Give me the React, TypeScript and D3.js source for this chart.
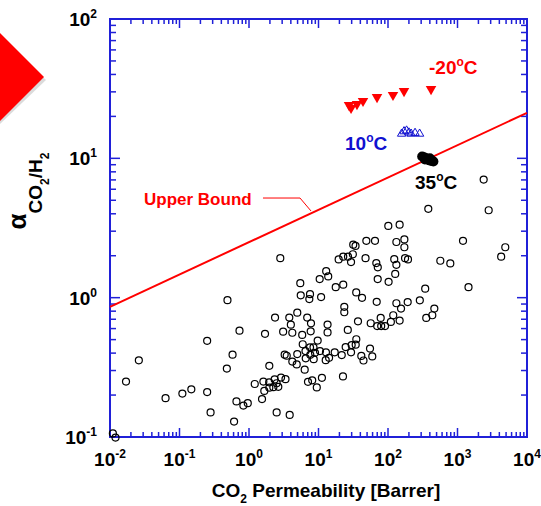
import React, { useEffect, useRef } from "react";
import * as d3 from "d3";

const xDecades = [-2, -1, 0, 1, 2, 3, 4];
const yDecades = [-1, 0, 1, 2];

// literature polymers: [CO2 permeability (Barrer), CO2/H2 selectivity]
const polymers: [number, number][] = [
  [0.011, 0.106], [0.012, 0.099], [0.017, 0.25], [0.026, 0.355], [0.063, 0.19],
  [0.11, 0.205], [0.148, 0.22], [0.25, 0.21], [0.28, 0.15], [0.25, 0.49],
  [0.49, 0.96], [0.73, 0.58], [0.58, 0.39], [0.48, 0.31], [0.66, 0.18],
  [0.83, 0.168], [0.96, 0.175], [0.61, 0.129], [1.21, 0.24], [1.54, 0.187],
  [1.61, 0.25], [1.66, 0.214], [1.95, 0.247], [1.96, 0.226], [2.24, 0.228],
  [2.34, 0.259], [2.5, 0.243], [2.64, 0.229], [2.89, 0.267], [3.35, 0.26],
  [1.96, 0.324], [1.7, 0.55], [2.37, 0.72], [2.82, 1.92], [2.5, 0.15],
  [3.85, 0.144], [3.1, 0.57], [3.8, 0.72], [4.0, 0.64], [4.2, 0.56],
  [4.95, 0.78], [3.26, 0.39], [3.49, 0.383], [4.95, 0.394], [4.2, 0.348],
  [4.86, 0.332], [5.47, 1.27], [5.55, 1.04], [5.83, 0.54], [6.88, 0.72],
  [7.8, 0.654], [7.72, 0.573], [5.93, 0.463], [7.55, 0.44], [8.47, 0.44],
  [6.5, 0.414], [7.62, 0.389], [8.91, 0.402], [9.73, 0.492], [6.55, 0.367],
  [8.53, 0.362], [6.33, 0.304], [7.06, 0.249], [8.12, 0.255], [9.45, 0.227],
  [11.2, 0.266], [10.5, 0.414], [7.55, 1.06], [7.38, 0.977], [10.9, 1.01],
  [10.4, 1.36], [12.9, 1.55], [13.8, 1.42], [13.5, 0.641], [13.5, 0.563],
  [12.8, 0.405], [12.7, 0.356], [14.2, 0.37], [17.7, 1.19], [17.1, 0.405],
  [19.5, 1.88], [22.7, 1.97], [26.6, 1.97], [31.2, 2.05], [29.4, 1.8],
  [31.6, 2.4], [34.1, 2.35], [48.8, 2.56], [65, 2.56], [47.5, 1.92],
  [67.9, 1.77], [71.3, 1.65], [22.7, 1.24], [34.9, 1.09], [42.3, 0.997],
  [71.1, 1.36], [68.8, 0.933], [23.5, 0.86], [23.5, 0.786], [21.6, 0.387],
  [24.6, 0.442], [26.4, 0.587], [29.4, 0.405], [30.0, 0.457], [34.3, 0.46],
  [35.0, 0.503], [37.0, 0.676], [41.3, 0.382], [44.4, 0.354], [55.1, 0.431],
  [59.4, 0.379], [56.4, 0.655], [22.5, 0.272], [69.9, 0.625], [79.8, 0.625],
  [90.6, 0.625], [78.5, 0.716], [101, 3.27], [147, 3.34], [132, 2.51],
  [172, 2.62], [172, 2.3], [123, 1.89], [132, 1.72], [176, 1.92],
  [194, 1.88], [102, 1.3], [127, 1.48], [132, 0.912], [154, 0.835],
  [192, 0.929], [287, 0.957], [343, 1.16], [464, 0.835], [434, 0.748],
  [355, 0.716], [119, 0.748], [147, 0.685], [110, 0.67], [380, 4.34],
  [566, 1.84], [788, 1.76], [1200, 2.56], [1440, 1.19], [2380, 7.04],
  [2810, 4.24], [4250, 1.97], [4870, 2.3],
];

const minus20C: [number, number][] = [
  [27.5, 24.1], [29.4, 23.0], [35.8, 24.5], [43.7, 25.8],
  [69.5, 27.5], [118, 28.5], [170, 30.4], [416, 31.4],
];

const plus10C: [number, number][] = [
  [157, 15.0], [170, 15.6], [185, 15.8], [200, 15.3], [215, 15.0], [245, 15.2], [285, 15.0],
];

const plus35C: [number, number][] = [
  [310, 10.3], [330, 10.2], [350, 10.0], [370, 9.8], [390, 9.7],
  [410, 9.6], [430, 9.6], [450, 9.5], [340, 9.8], [400, 10.0],
];

const upperBound: [number, number][] = [[0.01, 0.86], [10000, 21.2]];
const leader: [number, number][] = [[1.59, 5.19], [5.42, 5.19], [7.8, 4.19]];

function App() {
  const ref = useRef<SVGSVGElement>(null);

  useEffect(() => {
    const svg = d3.select(ref.current);
    svg.selectAll("*").remove();

    const font = "'Liberation Sans', Arial, sans-serif";
    const blue = "#2020d8";
    const left = 110, right = 527, top = 19, bottom = 437;

    const x = d3.scaleLog().domain([1e-2, 1e4]).range([left, right]);
    const y = d3.scaleLog().domain([1e-1, 1e2]).range([bottom, top]);

    // red arrow decoration at the left
    svg.append("polygon")
      .attr("points", "0,36 46,80 0,124")
      .attr("fill", "#999")
      .attr("opacity", 0.35);
    svg.append("polygon")
      .attr("points", "0,33 44,77 0,121")
      .attr("fill", "#ff0000");

    const minorOf = (decs: number[]) =>
      decs.slice(0, -1).flatMap((d) => d3.range(2, 10).map((m) => m * Math.pow(10, d)));
    const xMajor = xDecades.map((d) => Math.pow(10, d));
    const yMajor = yDecades.map((d) => Math.pow(10, d));
    const xMinor = minorOf(xDecades);
    const yMinor = minorOf(yDecades);

    const ticks = svg.append("g").attr("stroke", blue).attr("stroke-width", 1.5);
    const hTick = (vals: number[], len: number) => {
      vals.forEach((v) => {
        ticks.append("line").attr("x1", x(v)).attr("x2", x(v)).attr("y1", bottom).attr("y2", bottom - len);
        ticks.append("line").attr("x1", x(v)).attr("x2", x(v)).attr("y1", top).attr("y2", top + len);
      });
    };
    const vTick = (vals: number[], len: number) => {
      vals.forEach((v) => {
        ticks.append("line").attr("y1", y(v)).attr("y2", y(v)).attr("x1", left).attr("x2", left + len);
        ticks.append("line").attr("y1", y(v)).attr("y2", y(v)).attr("x1", right).attr("x2", right - len);
      });
    };
    hTick(xMajor, 9);
    hTick(xMinor, 5);
    vTick(yMajor, 10);
    vTick(yMinor, 6);

    svg.append("rect")
      .attr("x", left).attr("y", top)
      .attr("width", right - left).attr("height", bottom - top)
      .attr("fill", "none").attr("stroke", blue).attr("stroke-width", 2);

    // tick labels
    const power = (sel: any, d: number) => {
      sel.append("tspan").text("10");
      sel.append("tspan").attr("font-size", 12).attr("dy", -8).text(String(d));
    };
    xDecades.forEach((d) => {
      const t = svg.append("text")
        .attr("x", x(Math.pow(10, d))).attr("y", 466)
        .attr("text-anchor", "middle")
        .attr("font-family", font).attr("font-weight", "bold").attr("font-size", 19);
      power(t, d);
    });
    yDecades.forEach((d) => {
      const t = svg.append("text")
        .attr("x", 97).attr("y", y(Math.pow(10, d)) + 7)
        .attr("text-anchor", "end")
        .attr("font-family", font).attr("font-weight", "bold").attr("font-size", 19);
      power(t, d);
    });

    // axis titles
    const xt = svg.append("text")
      .attr("x", 326).attr("y", 497)
      .attr("text-anchor", "middle")
      .attr("font-family", font).attr("font-weight", "bold").attr("font-size", 19);
    xt.append("tspan").text("CO");
    xt.append("tspan").attr("font-size", 12).attr("dy", 6).text("2");
    xt.append("tspan").attr("dy", -6).text(" Permeability [Barrer]");

    const yt = svg.append("text")
      .attr("transform", "translate(26,191) rotate(-90)")
      .attr("text-anchor", "middle")
      .attr("font-family", font).attr("font-weight", "bold").attr("font-size", 19);
    yt.append("tspan").attr("font-size", 26).text("α");
    yt.append("tspan").attr("dy", 16).text("CO");
    yt.append("tspan").attr("font-size", 12).attr("dy", 7).text("2");
    yt.append("tspan").attr("dy", -7).text("/H");
    yt.append("tspan").attr("font-size", 12).attr("dy", 7).text("2");

    // upper bound
    const line = d3.line<[number, number]>().x((d) => x(d[0])).y((d) => y(d[1]));
    svg.append("path").datum(upperBound).attr("d", line)
      .attr("fill", "none").attr("stroke", "#ff0000").attr("stroke-width", 2);
    svg.append("path").datum(leader).attr("d", line)
      .attr("fill", "none").attr("stroke", "#ff0000").attr("stroke-width", 1);
    svg.append("text")
      .attr("x", 144).attr("y", 205)
      .attr("font-family", font).attr("font-weight", "bold").attr("font-size", 17)
      .attr("fill", "#ff0000").text("Upper Bound");

    // literature data
    svg.append("g").selectAll("circle").data(polymers).enter().append("circle")
      .attr("cx", (d) => x(d[0])).attr("cy", (d) => y(d[1])).attr("r", 3.5)
      .attr("fill", "none").attr("stroke", "#000").attr("stroke-width", 1.2);

    // this work
    svg.append("g").selectAll("circle").data(plus35C).enter().append("circle")
      .attr("cx", (d) => x(d[0])).attr("cy", (d) => y(d[1])).attr("r", 5)
      .attr("fill", "#000");

    const tri = d3.symbol().type(d3.symbolTriangle);
    svg.append("g").selectAll("path").data(plus10C).enter().append("path")
      .attr("d", tri.size(30)())
      .attr("transform", (d) => `translate(${x(d[0])},${y(d[1])})`)
      .attr("fill", "none").attr("stroke", "#1010d0").attr("stroke-width", 1);

    svg.append("g").selectAll("path").data(minus20C).enter().append("path")
      .attr("d", d3.symbol().type(d3.symbolTriangle).size(48)())
      .attr("transform", (d) => `translate(${x(d[0])},${y(d[1])}) rotate(180)`)
      .attr("fill", "#ff0000");

    const tempLabel = (tx: number, ty: number, num: string, color: string) => {
      const t = svg.append("text")
        .attr("x", tx).attr("y", ty)
        .attr("font-family", font).attr("font-weight", "bold").attr("font-size", 19)
        .attr("fill", color);
      t.append("tspan").text(num);
      t.append("tspan").attr("font-size", 12).attr("dy", -8).text("o");
      t.append("tspan").attr("dy", 8).text("C");
    };
    tempLabel(429, 74, "-20", "#ff0000");
    tempLabel(345, 150, "10", "#1010d0");
    tempLabel(415, 189, "35", "#000");
  });

  return (
    <svg
      ref={ref}
      width="541"
      height="506"
      style={{ position: "absolute", left: 0, top: 0, background: "#fff" }}
    />
  );
}

export default App;
